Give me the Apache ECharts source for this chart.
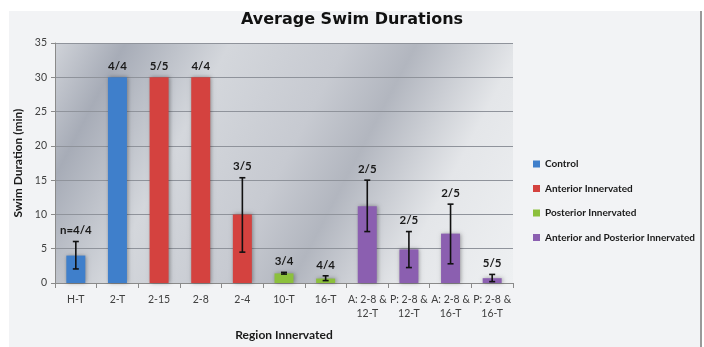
<!DOCTYPE html>
<html>
<head>
<meta charset="utf-8">
<script src="https://cdn.jsdelivr.net/npm/echarts@6/dist/echarts.min.js"></script>
<style>html,body{margin:0;padding:0;background:#fff;}#c{width:704px;height:347px;}</style>
</head>
<body>
<div id="c"></div>
<script>
var categories = ['H-T','2-T','2-15','2-8','2-4','10-T','16-T','A: 2-8 &\n12-T','P: 2-8 &\n12-T','A: 2-8 &\n16-T','P: 2-8 &\n16-T'];
var seriesNames = ['Control','Anterior Innervated','Posterior Innervated','Anterior and Posterior Innervated'];
var controlVals   = [4, 30, '-', '-', '-', '-', '-', '-', '-', '-', '-'];
var anteriorVals  = ['-', '-', 30, 30, 10, '-', '-', '-', '-', '-', '-'];
var posteriorVals = ['-', '-', '-', '-', '-', 1.4, 0.65, '-', '-', '-', '-'];
var bothVals      = ['-', '-', '-', '-', '-', '-', '-', 11.2, 4.9, 7.2, 0.7];
var errLow  = [2.05, null, null, null, 4.5, 1.3, 0.35, 7.5, 2.25, 2.8, 0.2];
var errHigh = [6.05, null, null, null, 15.35, 1.55, 1.05, 15.0, 7.5, 11.5, 1.25];
var nLabels = ['n=4/4','4/4','5/5','4/4','3/5','3/4','4/4','2/5','2/5','2/5','5/5'];
var yTicks = [0,5,10,15,20,25,30,35];
var colors = ['#3f7fcb','#d4423f','#8cc03c','#8b5fb0'];

var valueArrays = [controlVals, anteriorVals, posteriorVals, bothVals];
function barValue(i){ for (var k=0;k<valueArrays.length;k++){ if (valueArrays[k][i] !== '-') return valueArrays[k][i]; } return 0; }

var errData = [], labelData = [];
for (var i=0;i<categories.length;i++){
  if (errLow[i] !== null) errData.push([i, errLow[i], errHigh[i]]);
  var labelTop = errHigh[i] !== null ? Math.max(errHigh[i], barValue(i)) : barValue(i);
  labelData.push([i, labelTop]);
}

var chart = echarts.init(document.getElementById('c'), null, {renderer:'canvas'});
var barSeries = valueArrays.map(function(arr, k){
  return {
    name: seriesNames[k], type: 'bar', stack: 'all', data: arr, barWidth: 19,
    itemStyle: {
      color: colors[k],
      shadowBlur: 4, shadowColor: 'rgba(0,0,0,0.35)', shadowOffsetX: 1, shadowOffsetY: 0
    }
  };
});

var option = {
  animation: false,
  backgroundColor: '#ffffff',
  graphic: [
    {type:'rect', z:-10, shape:{x:9,y:11,width:691,height:340}, style:{fill:'#f2f3f5'}},
    {type:'rect', z:-10, shape:{x:700,y:11,width:2,height:340}, style:{fill:'#9a9a9a'}}
  ],
  title: {
    text: 'Average Swim Durations', left: 'center', top: 7,
    textStyle: {fontFamily:'DejaVu Sans', fontWeight:'bold', fontSize:16, color:'#111'}
  },
  legend: {
    orient: 'vertical', left: 528, top: 154, itemWidth: 7, itemHeight: 7, itemGap: 14.5,
    icon: 'rect', data: seriesNames,
    textStyle: {fontFamily:'Lato', fontWeight:'bold', fontSize:10, color:'#1a1a1a'}
  },
  grid: {
    left: 55, right: 191, top: 43, bottom: 64, show: true, borderWidth: 0,
    backgroundColor: {type:'linear', x:0, y:0, x2:1, y2:1, colorStops:[
      {offset:0, color:'#d0d3d9'},
      {offset:0.12, color:'#a7acb7'},
      {offset:0.3, color:'#d4d7dc'},
      {offset:0.5, color:'#c7cad1'},
      {offset:0.62, color:'#b2b6bf'},
      {offset:0.8, color:'#e4e6e9'},
      {offset:1, color:'#eef0f2'}
    ]}
  },
  xAxis: {
    type: 'category', data: categories,
    name: 'Region Innervated', nameLocation: 'middle', nameGap: 46,
    nameTextStyle: {fontFamily:'Lato', fontWeight:'bold', fontSize:12, color:'#1a1a1a'},
    axisLine: {lineStyle:{color:'#8a8a8a'}},
    axisTick: {show:true, length:5, lineStyle:{color:'#8a8a8a'}},
    axisLabel: {fontFamily:'Lato', fontSize:10.5, color:'#404040', margin:10, lineHeight:14, interval:0}
  },
  yAxis: {
    type: 'value', min: yTicks[0], max: yTicks[yTicks.length-1], interval: 5,
    name: 'Swim Duration (min)', nameLocation: 'middle', nameGap: 29,
    nameTextStyle: {fontFamily:'Lato', fontWeight:'bold', fontSize:12, color:'#1a1a1a'},
    axisLine: {show:true, lineStyle:{color:'#8a8a8a'}},
    axisTick: {show:true, length:4, lineStyle:{color:'#8a8a8a'}},
    axisLabel: {fontFamily:'Lato', fontSize:10.5, color:'#404040', margin:8},
    splitLine: {lineStyle:{color:'#8f939b', width:1}}
  },
  series: barSeries.concat([
    {
      type: 'custom', name: 'err', data: errData, z: 10, silent: true,
      renderItem: function(params, api){
        var x = api.value(0);
        var lo = api.coord([x, api.value(1)]);
        var hi = api.coord([x, api.value(2)]);
        var c = 3;
        var st = {stroke:'#111', lineWidth:1.6};
        return {type:'group', children:[
          {type:'line', shape:{x1:lo[0],y1:lo[1],x2:hi[0],y2:hi[1]}, style:st},
          {type:'line', shape:{x1:lo[0]-c,y1:lo[1],x2:lo[0]+c,y2:lo[1]}, style:st},
          {type:'line', shape:{x1:hi[0]-c,y1:hi[1],x2:hi[0]+c,y2:hi[1]}, style:st}
        ]};
      }
    },
    {
      type: 'custom', name: 'labels', data: labelData, z: 11, silent: true,
      renderItem: function(params, api){
        var p = api.coord([api.value(0), api.value(1)]);
        return {type:'text', x:p[0], y:p[1]-11, style:{
          text: nLabels[params.dataIndex], fill:'#1a1a1a',
          font:'bold 11.5px Lato', align:'center', verticalAlign:'middle'
        }};
      }
    }
  ])
};
chart.setOption(option);
</script>
</body>
</html>
